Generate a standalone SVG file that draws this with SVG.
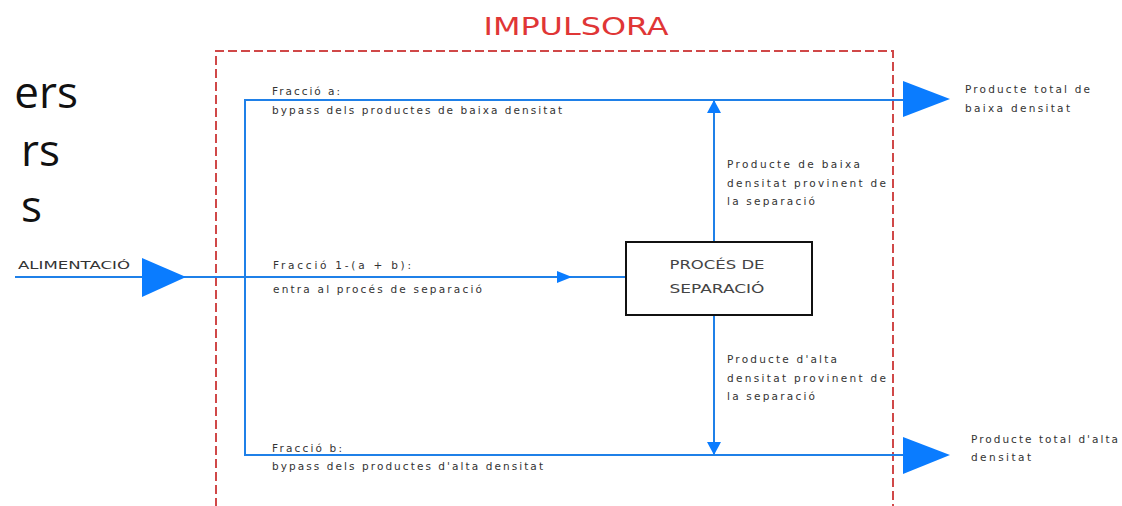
<svg xmlns="http://www.w3.org/2000/svg" width="1122" height="506" viewBox="0 0 1122 506">
<style>
.flow{stroke:#1f80e8;stroke-width:2;fill:none}
.big{fill:#0a7cff}
.lbl{font-family:"DejaVu Sans",Verdana,sans-serif;font-size:10.5px;fill:#333}
.side{font-family:"Open Sans","Liberation Sans",sans-serif;font-size:44px;fill:#111}
</style>
<rect width="1122" height="506" fill="#fff"/>
<g id="side-text">
<text class="side" x="78" y="108" text-anchor="end">ers</text>
<text class="side" x="60" y="166" text-anchor="end">rs</text>
<text class="side" x="42" y="222" text-anchor="end">s</text>
</g>
<g id="impulsora">
<path d="M216,520 V51 H893 V520" fill="none" stroke="#d04848" stroke-width="2" stroke-dasharray="9,4"/>
<text x="576" y="35" text-anchor="middle" font-family="DejaVu Sans Condensed,DejaVu Sans,sans-serif" font-size="25" fill="#e03636" textLength="185" lengthAdjust="spacingAndGlyphs">IMPULSORA</text>
</g>
<g id="connectors">
<path class="flow" d="M15,277 H626"/>
<path class="flow" d="M903,100 H245 V455 H903"/>
<path class="flow" d="M714,242 V101"/>
<path class="flow" d="M714,315 V454"/>
<polygon class="big" points="142,258 186,277 142,297"/>
<polygon class="big" points="903,81 950,99 903,117"/>
<polygon class="big" points="903,437 950,455 903,474"/>
<polygon class="big" points="557,271 572,277 557,283"/>
<polygon class="big" points="707,113 714,100 721,113"/>
<polygon class="big" points="707,442 714,455 721,442"/>
</g>
<g id="proces">
<rect x="626" y="242" width="186" height="73" fill="#fff" stroke="#111" stroke-width="2"/>
<text x="717" y="269" text-anchor="middle" font-family="DejaVu Sans,sans-serif" font-size="13" fill="#444" textLength="95" lengthAdjust="spacingAndGlyphs">PROCÉS DE</text>
<text x="717" y="293" text-anchor="middle" font-family="DejaVu Sans,sans-serif" font-size="13" fill="#444" textLength="95" lengthAdjust="spacingAndGlyphs">SEPARACIÓ</text>
</g>
<g id="alimentacio">
<text class="lbl" x="18" y="269" textLength="112" lengthAdjust="spacingAndGlyphs">ALIMENTACIÓ</text>
</g>
<g id="fraccio-a">
<text class="lbl" x="272" y="95" textLength="68" lengthAdjust="spacing">Fracció a:</text>
<text class="lbl" x="272" y="114" textLength="290" lengthAdjust="spacing">bypass dels productes de baixa densitat</text>
</g>
<g id="fraccio-mid">
<text class="lbl" x="273" y="269" textLength="138" lengthAdjust="spacing">Fracció 1-(a + b):</text>
<text class="lbl" x="273" y="293" textLength="209" lengthAdjust="spacing">entra al procés de separació</text>
</g>
<g id="fraccio-b">
<text class="lbl" x="272" y="452" textLength="70" lengthAdjust="spacing">Fracció b:</text>
<text class="lbl" x="272" y="470" textLength="271" lengthAdjust="spacing">bypass dels productes d'alta densitat</text>
</g>
<g id="baixa-sep">
<text class="lbl" x="727" y="168" textLength="133" lengthAdjust="spacing">Producte de baixa</text>
<text class="lbl" x="727" y="187" textLength="159" lengthAdjust="spacing">densitat provinent de</text>
<text class="lbl" x="727" y="205" textLength="88" lengthAdjust="spacing">la separació</text>
</g>
<g id="alta-sep">
<text class="lbl" x="727" y="363" textLength="110" lengthAdjust="spacing">Producte d'alta</text>
<text class="lbl" x="727" y="382" textLength="159" lengthAdjust="spacing">densitat provinent de</text>
<text class="lbl" x="727" y="400" textLength="88" lengthAdjust="spacing">la separació</text>
</g>
<g id="total-baixa">
<text class="lbl" x="965" y="93" textLength="125" lengthAdjust="spacing">Producte total de</text>
<text class="lbl" x="965" y="112" textLength="105" lengthAdjust="spacing">baixa densitat</text>
</g>
<g id="total-alta">
<text class="lbl" x="971" y="443" textLength="147" lengthAdjust="spacing">Producte total d'alta</text>
<text class="lbl" x="971" y="461" textLength="60" lengthAdjust="spacing">densitat</text>
</g>
</svg>
